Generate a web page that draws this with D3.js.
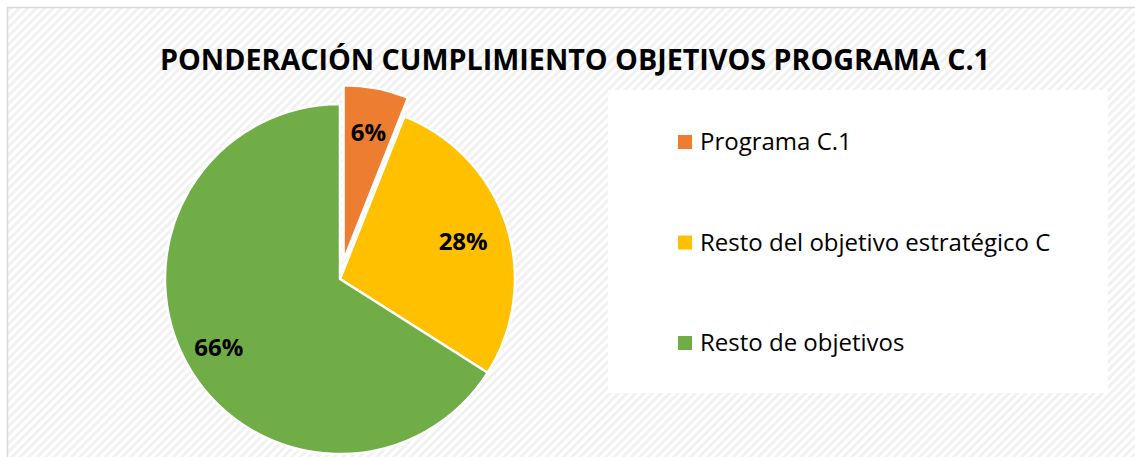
<!DOCTYPE html>
<html><head><meta charset="utf-8">
<script src="https://cdn.jsdelivr.net/npm/d3@7"></script>
<style>html,body{margin:0;padding:0;background:#fff;overflow:hidden}</style>
</head><body>
<svg id="chart" width="1135" height="457"></svg>
<script>
const categories = ["Programa C.1", "Resto del objetivo estratégico C", "Resto de objetivos"];
const values = [6, 28, 66];
const labels = ["6%", "28%", "66%"];
const colors = ["#ED7D31", "#FFC000", "#70AD47"];
const title = "PONDERACIÓN CUMPLIMIENTO OBJETIVOS PROGRAMA C.1";
const explode = [19, 0, 0];

const svg = d3.select("#chart");
const defs = svg.append("defs");
const pat = defs.append("pattern").attr("id","stripes").attr("patternUnits","userSpaceOnUse")
  .attr("width",6).attr("height",6).attr("patternTransform","rotate(45)");
pat.append("rect").attr("width",6).attr("height",6).attr("fill","#ffffff");
pat.append("rect").attr("width",3).attr("height",6).attr("fill","#f1f1f1");

svg.append("rect").attr("x",7.5).attr("y",7.5).attr("width",1140).attr("height",460)
  .attr("fill","url(#stripes)").attr("stroke","#d9d9d9").attr("stroke-width",1.5);

svg.append("text").attr("x",575).attr("y",70).attr("text-anchor","middle")
  .attr("font-family","'Open Sans', sans-serif").attr("font-weight","bold").attr("font-size",29)
  .attr("textLength",830).attr("lengthAdjust","spacingAndGlyphs")
  .attr("fill","#000").text(title);

const cx = 340, cy = 279, r = 175;
const pie = d3.pie().sort(null).value(d => d)(values);
const arc = d3.arc().innerRadius(0).outerRadius(r);
const g = svg.append("g").attr("transform", `translate(${cx},${cy})`);
const slices = g.selectAll("g.slice").data(pie).enter().append("g")
  .attr("transform", (d,i) => {
    const a = (d.startAngle + d.endAngle)/2;
    return `translate(${Math.sin(a)*explode[i]},${-Math.cos(a)*explode[i]})`;
  });
slices.append("path").attr("d", arc).attr("fill", (d,i) => colors[i])
  .attr("stroke","#fff").attr("stroke-width",2.5).attr("stroke-linejoin","round");

const lr = [0.76, 0.74, 0.79];
slices.append("text")
  .attr("transform", (d,i) => {
    const a = (d.startAngle + d.endAngle)/2;
    const rr = r*lr[i];
    return `translate(${Math.sin(a)*rr},${-Math.cos(a)*rr})`;
  })
  .attr("text-anchor","middle").attr("dy","0.45em")
  .attr("font-family","'Open Sans', sans-serif").attr("font-weight","bold").attr("font-size",24)
  .attr("fill","#000").text((d,i) => labels[i]);

// legend
svg.append("rect").attr("x",608).attr("y",90).attr("width",500).attr("height",303).attr("fill","#ffffff");
const ly = d3.scalePoint().domain(categories).range([142, 343]);
const leg = svg.selectAll("g.leg").data(categories).enter().append("g")
  .attr("transform", d => `translate(678,${ly(d)})`);
leg.append("rect").attr("x",0).attr("y",-7).attr("width",14).attr("height",14).attr("fill",(d,i)=>colors[i]);
leg.append("text").attr("x",22).attr("y",0).attr("dy","0.35em")
  .attr("font-family","'Open Sans', sans-serif").attr("font-size",24).attr("fill","#000")
  .text(d => d);
</script>
</body></html>
